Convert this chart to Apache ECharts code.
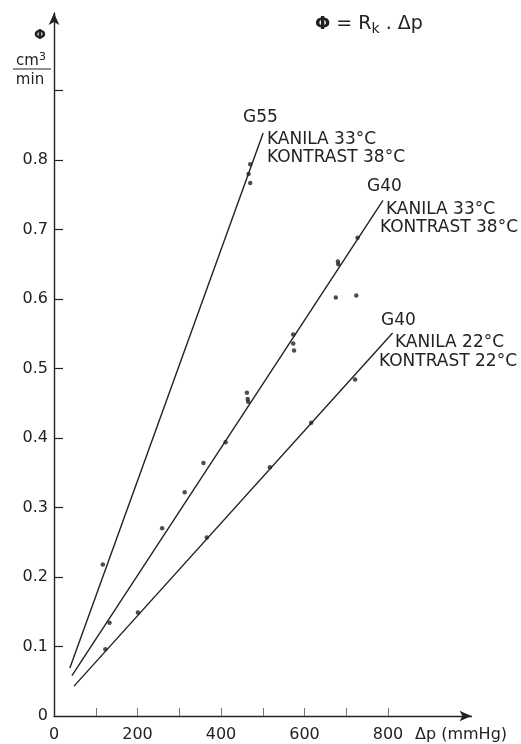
<!DOCTYPE html>
<html>
<head>
<meta charset="utf-8">
<script src="https://cdn.jsdelivr.net/npm/echarts@6/dist/echarts.min.js"></script>
<style>
html,body{margin:0;padding:0;background:#fff;}
#chart{width:521px;height:744px;}
</style>
</head>
<body>
<div id="chart"></div>
<script>
// Fitted lines (endpoints)
const lineG55_33_38 = [[38, 0.069], [501, 0.839]];
const lineG40_33_38 = [[43, 0.058], [788, 0.742]];
const lineG40_22_22 = [[48, 0.043], [811, 0.551]];

// Measured points
const ptsG55_33_38 = [[117, 0.218], [470, 0.794], [466, 0.780], [470, 0.767]];
const ptsG40_33_38 = [[133, 0.134], [259, 0.270], [313, 0.322], [358, 0.364], [411, 0.394],
  [462, 0.465], [464, 0.456], [465, 0.452], [573, 0.549], [573, 0.536], [575, 0.526],
  [675, 0.602], [680, 0.654], [681, 0.650], [724, 0.605], [727, 0.688]];
const ptsG40_22_22 = [[123, 0.096], [201, 0.149], [366, 0.257], [517, 0.358], [616, 0.422], [721, 0.484]];

// Axis ticks and labels
const xTickValues = [100, 200, 300, 400, 500, 600, 700, 800];
const xLabelValues = [0, 200, 400, 600, 800];
const yTickValues = [0.1, 0.2, 0.3, 0.4, 0.5, 0.6, 0.7, 0.8, 0.9];
const yLabelValues = [0, 0.1, 0.2, 0.3, 0.4, 0.5, 0.6, 0.7, 0.8];

const FONT = 'DejaVu Sans';
const INK = '#222';

const chart = echarts.init(document.getElementById('chart'), null, {renderer: 'canvas'});

const lineStyle = {color: INK, width: 1.4};
function lineSeries(d) {
  return {type: 'line', data: d, symbol: 'none', lineStyle: lineStyle, silent: true, z: 2};
}
function ptSeries(d) {
  return {type: 'scatter', data: d, symbol: 'circle', symbolSize: 4.5,
    itemStyle: {color: INK}, silent: true, z: 3};
}

const txt = (x, y, text, size, align, weight) => ({
  type: 'text', x: x, y: y,
  style: {text: text, font: (weight || 'normal') + ' ' + size + 'px "' + FONT + '"', fill: INK,
    align: align || 'left', verticalAlign: 'middle'}
});

chart.setOption({
  animation: false,
  backgroundColor: '#fff',
  grid: {left: 54, right: 49.5, top: 13, bottom: 28, containLabel: false},
  xAxis: {
    type: 'value', min: 0, max: 1000,
    axisLine: {show: true, symbol: ['none', 'arrow'], symbolSize: [8, 12],
      lineStyle: {color: INK, width: 1.4}},
    axisTick: {show: true, inside: true, length: 8, customValues: xTickValues,
      lineStyle: {color: '#777', width: 1}},
    axisLabel: {show: true, customValues: xLabelValues, margin: 11,
      fontFamily: FONT, fontSize: 16, color: INK},
    splitLine: {show: false}
  },
  yAxis: {
    type: 'value', min: 0, max: (716 - 13) / 695,
    axisLine: {show: true, symbol: ['none', 'arrow'], symbolSize: [8, 12],
      lineStyle: {color: INK, width: 1.4}},
    axisTick: {show: true, inside: true, length: 9, customValues: yTickValues,
      lineStyle: {color: INK, width: 1.2}},
    axisLabel: {show: true, customValues: yLabelValues, margin: 6,
      fontFamily: FONT, fontSize: 16, color: INK,
      formatter: v => String(Math.round(v * 10) / 10)},
    splitLine: {show: false}
  },
  series: [
    lineSeries(lineG55_33_38), lineSeries(lineG40_33_38), lineSeries(lineG40_22_22),
    ptSeries(ptsG55_33_38), ptSeries(ptsG40_33_38), ptSeries(ptsG40_22_22)
  ],
  graphic: [
    // title formula
    {type: 'text', x: 315, y: 24, style: {
      text: '{f|Φ} = R{k|k} . Δp', fill: INK, verticalAlign: 'middle',
      font: '19px "' + FONT + '"',
      rich: {
        f: {fontSize: 18, fontWeight: 'bold', fontFamily: FONT, fill: INK},
        k: {fontSize: 14, fontFamily: FONT, fill: INK, padding: [10, 0, 0, 0]}
      }
    }},
    // y axis name
    txt(40, 35, 'Φ', 14, 'center', 'bold'),
    {type: 'text', x: 31, y: 61, style: {
      text: 'cm{s|3}', fill: INK, align: 'center', verticalAlign: 'middle',
      font: '15px "' + FONT + '"',
      rich: {s: {fontSize: 11, fontFamily: FONT, fill: INK, padding: [0, 0, 8, 0]}}
    }},
    {type: 'line', shape: {x1: 13, y1: 69, x2: 51, y2: 69}, style: {stroke: INK, lineWidth: 1.2}},
    txt(30, 80, 'min', 15, 'center'),
    // x axis name
    txt(415, 735, 'Δp (mmHg)', 16, 'left'),
    // line labels
    txt(243, 118, 'G55', 17, 'left'),
    txt(267, 140, 'KANILA 33°C', 17, 'left'),
    txt(267, 158, 'KONTRAST 38°C', 17, 'left'),
    txt(367, 187, 'G40', 17, 'left'),
    txt(386, 210, 'KANILA 33°C', 17, 'left'),
    txt(380, 228, 'KONTRAST 38°C', 17, 'left'),
    txt(381, 321, 'G40', 17, 'left'),
    txt(395, 343, 'KANILA 22°C', 17, 'left'),
    txt(379, 362, 'KONTRAST 22°C', 17, 'left')
  ]
});
</script>
</body>
</html>
